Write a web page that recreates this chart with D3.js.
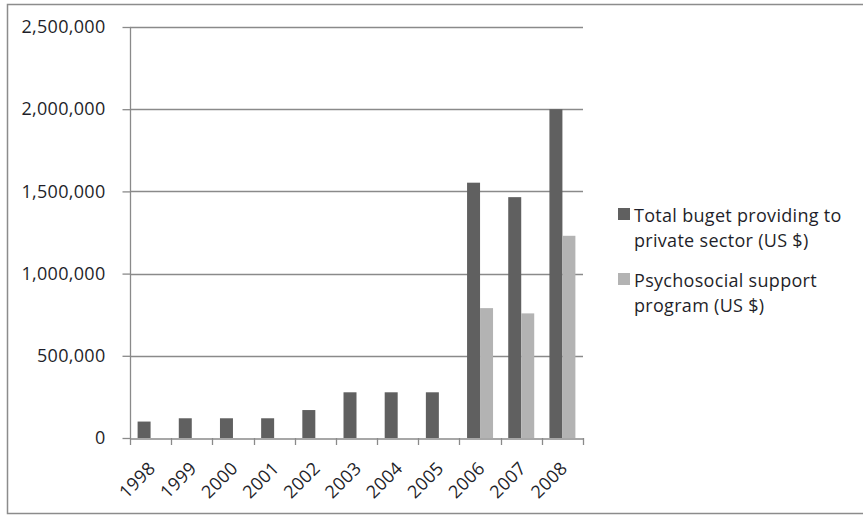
<!DOCTYPE html>
<html><head><meta charset="utf-8">
<script src="https://cdn.jsdelivr.net/npm/d3@7"></script>
<style>html,body{margin:0;padding:0;background:#fff;}svg{display:block;}</style>
</head><body>
<script>
const years = ["1998","1999","2000","2001","2002","2003","2004","2005","2006","2007","2008"];
const totalBudget = [100000,120000,120000,120000,170000,278000,278000,278000,1553000,1465000,2000000];
const psychosocial = [0,0,0,0,0,0,0,0,790000,758000,1230000];
const seriesNames = ["Total buget providing to|private sector (US $)","Psychosocial support|program (US $)"];
const seriesColors = ["#606060","#b3b3b3"];
const yTicks = [0,500000,1000000,1500000,2000000,2500000];

const W=863,H=516;
const svg=d3.select("body").append("svg").attr("width",W).attr("height",H);
svg.append("rect").attr("x",7.5).attr("y",4.5).attr("width",W+10).attr("height",509)
  .attr("fill","#fff").attr("stroke","#8c8c8c").attr("stroke-width",1.5);

const pLeft=130,pRight=583,pTop=27,pBottom=438;
const y=d3.scaleLinear().domain([0,2500000]).range([pBottom,pTop]);
const x0=d3.scaleBand().domain(years).range([pLeft,pRight]).padding(0);
const keys=["total","psy"];
const x1=d3.scaleBand().domain(keys).range([0,x0.bandwidth()]).paddingInner(0).paddingOuter(0.585);
const font="'Open Sans', sans-serif";
const fs="18px";
const ls="0.3px";
const gridColor="#8a8a8a";
const txtColor="#1f1f2a";

// gridlines
svg.append("g").selectAll("line").data(yTicks.filter(d=>d>0)).join("line")
  .attr("x1",pLeft).attr("x2",pRight).attr("y1",d=>Math.round(y(d))+0.5).attr("y2",d=>Math.round(y(d))+0.5)
  .attr("stroke",gridColor).attr("stroke-width",1.3);

// bars
const data=years.map((yr,i)=>({yr,vals:[{k:"total",v:totalBudget[i],c:seriesColors[0]},{k:"psy",v:psychosocial[i],c:seriesColors[1]}]}));
svg.append("g").selectAll("g").data(data).join("g").attr("transform",d=>`translate(${x0(d.yr)},0)`)
  .selectAll("rect").data(d=>d.vals.filter(e=>e.v>0)).join("rect")
  .attr("x",d=>x1(d.k)).attr("width",x1.bandwidth()).attr("y",d=>y(d.v)).attr("height",d=>pBottom-y(d.v)).attr("fill",d=>d.c);

// y axis
const yAxis=svg.append("g").attr("transform",`translate(${pLeft+0.5},0)`)
  .call(d3.axisLeft(y).tickValues(yTicks).tickSize(8).tickPadding(17).tickFormat(d3.format(",")));
yAxis.select(".domain").attr("stroke",gridColor).attr("stroke-width",1.3).attr("d",`M0,${pTop}V${pBottom}`);
yAxis.selectAll(".tick line").attr("stroke",gridColor).attr("stroke-width",1.3);
yAxis.selectAll("text").attr("font-family",font).attr("font-size",fs).attr("letter-spacing",ls).attr("fill",txtColor);

// x axis
const xAxis=svg.append("g").attr("transform",`translate(0,${pBottom+0.5})`)
  .call(d3.axisBottom(x0).tickSize(0).tickFormat(d=>d));
xAxis.select(".domain").attr("stroke",gridColor).attr("stroke-width",1.3);
xAxis.selectAll(".tick line").remove();
const xt=[pLeft,...years.map(yr=>x0(yr)+x0.bandwidth())];
svg.append("g").selectAll("line").data(xt).join("line")
  .attr("x1",d=>Math.round(d)+0.5).attr("x2",d=>Math.round(d)+0.5).attr("y1",pBottom).attr("y2",pBottom+7)
  .attr("stroke",gridColor).attr("stroke-width",1.3);
xAxis.selectAll("text").attr("font-family",font).attr("font-size",fs).attr("letter-spacing",ls).attr("fill",txtColor)
  .attr("text-anchor","end").attr("dy",null).attr("y",0)
  .attr("transform","translate(6,31) rotate(-45)");

// legend
const lg=svg.append("g");
const legBase=[222,287];
seriesNames.forEach((n,i)=>{
  lg.append("rect").attr("x",618).attr("y",legBase[i]-14).attr("width",12).attr("height",12).attr("fill",seriesColors[i]);
  const t=lg.append("text").attr("x",634).attr("y",legBase[i]).attr("font-family",font).attr("font-size",fs).attr("letter-spacing",ls).attr("fill",txtColor);
  n.split("|").forEach((s,j)=>t.append("tspan").attr("x",634).attr("dy",j?24.5:0).text(s));
});
</script>
</body></html>
